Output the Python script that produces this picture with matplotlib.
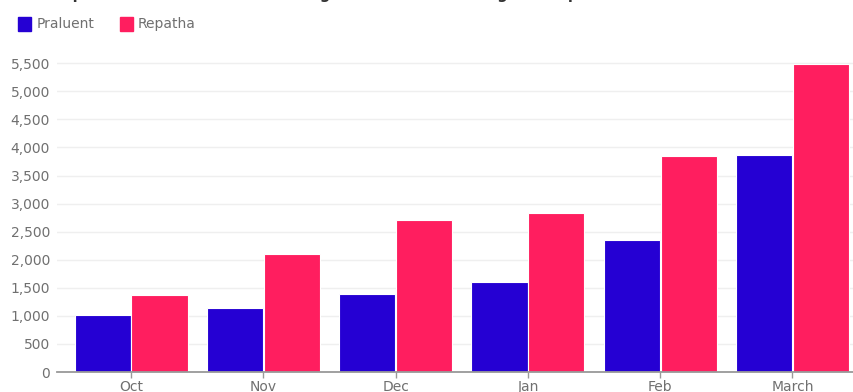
import matplotlib
matplotlib.use("Agg")
import matplotlib.pyplot as plt
import numpy as np
from matplotlib.patches import Rectangle

months = ["Oct", "Nov", "Dec", "Jan", "Feb", "March"]
praluent = [1020, 1140, 1390, 1610, 2350, 3870]
repatha = [1380, 2100, 2710, 2830, 3840, 5480]
yticks = list(range(0, 5501, 500))
title = "Prescriptions for Sanofi's Praluent lag behind those of Amgen's Repatha over six months"

c_pra = "#2500D3"
c_rep = "#FF1E5F"

fig = plt.figure(figsize=(8.54, 3.92), dpi=100)
ax = fig.add_axes([57/854, 1-372/392, 1-57/854, (372-52)/392])

x = np.arange(len(months))
w = 0.425
ax.bar(x - 0.215, praluent, w, color=c_pra, edgecolor="white", linewidth=0.8, zorder=3)
ax.bar(x + 0.215, repatha, w, color=c_rep, edgecolor="white", linewidth=0.8, zorder=3)

ax.set_xlim(-0.56, 5.465)
ax.set_ylim(0, 5700)
ax.set_yticks(yticks)
ax.set_yticklabels([f"{v:,}" for v in yticks])
ax.set_xticks(x)
ax.set_xticklabels(months)
ax.grid(axis="y", color="#efefef", linewidth=1, zorder=0)
for s in ["top", "right", "left"]:
    ax.spines[s].set_visible(False)
ax.spines["bottom"].set_color("#999999")
ax.spines["bottom"].set_linewidth(1.3)
ax.spines["bottom"].set_zorder(4)
ax.tick_params(axis="y", length=0, pad=5, labelsize=10, labelcolor="#707070")
ax.tick_params(axis="x", length=4, width=1, color="#999999", pad=2, labelsize=10, labelcolor="#707070")

# legend
fig.patches.append(Rectangle((18/854, 1-31/392), 13/854, 14/392, transform=fig.transFigure, color=c_pra))
fig.text(37/854, 1-24/392, "Praluent", va="center", ha="left", fontsize=10, color="#707070")
fig.patches.append(Rectangle((120/854, 1-31/392), 13/854, 14/392, transform=fig.transFigure, color=c_rep))
fig.text(138/854, 1-24/392, "Repatha", va="center", ha="left", fontsize=10, color="#707070")

# clipped title
fig.text(15/854, 1 + 1/392, title, va="baseline", ha="left", fontsize=10.5, fontweight="bold", color="#333333")

fig.savefig("out.png", dpi=100)
